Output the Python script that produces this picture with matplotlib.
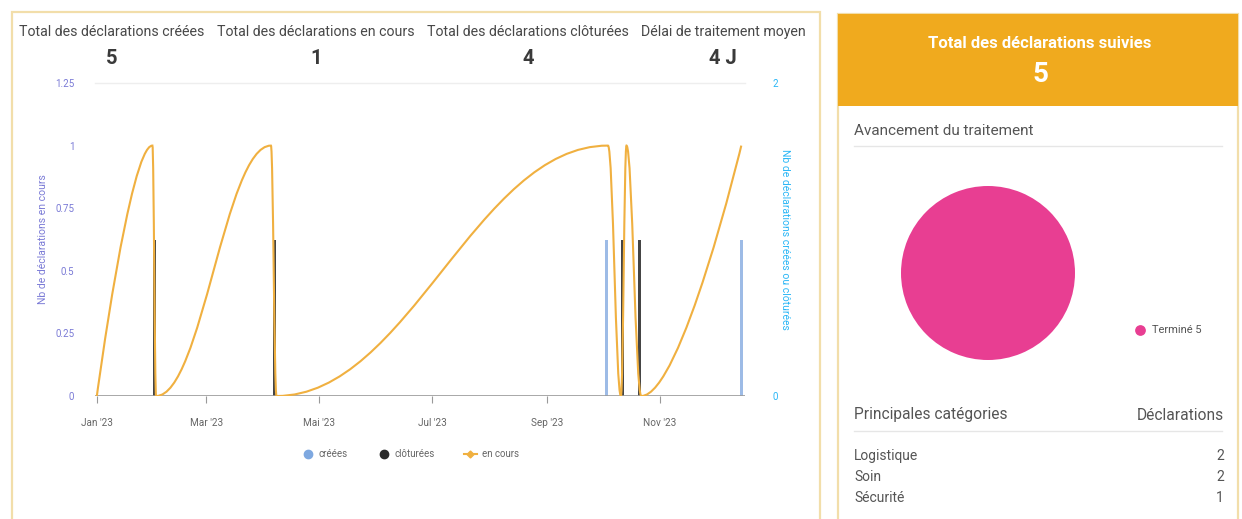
import matplotlib
matplotlib.use("Agg")
import matplotlib.pyplot as plt
import matplotlib.dates as mdates
from matplotlib.path import Path
from matplotlib.patches import PathPatch, Rectangle
from matplotlib.lines import Line2D
from datetime import date

plt.rcParams['font.family'] = ['Roboto', 'DejaVu Sans']

# KPI header of the left card
kpi_titles = ["Total des déclarations créées", "Total des déclarations en cours",
              "Total des déclarations clôturées", "Délai de traitement moyen"]
kpi_values = ["5", "1", "4", "4 J"]

# timeline series
en_cours_dates = [date(2023, 1, 1), date(2023, 1, 31), date(2023, 2, 2), date(2023, 4, 5),
                  date(2023, 4, 8), date(2023, 10, 4), date(2023, 10, 11), date(2023, 10, 14),
                  date(2023, 10, 22), date(2023, 12, 15)]
en_cours_values = [0, 1, 0, 1, 0, 1, 0, 1, 0, 1]

creees_dates = [date(2023, 2, 1), date(2023, 4, 7), date(2023, 10, 3), date(2023, 10, 12),
                date(2023, 12, 15)]
creees_values = [1, 1, 1, 1, 1]

cloturees_dates = [date(2023, 2, 1), date(2023, 4, 7), date(2023, 10, 12), date(2023, 10, 21)]
cloturees_values = [1, 1, 1, 1]

month_ticks = [date(2023, 1, 1), date(2023, 3, 1), date(2023, 5, 1),
               date(2023, 7, 1), date(2023, 9, 1), date(2023, 11, 1)]
month_labels = ["Jan '23", "Mar '23", "Mai '23", "Jul '23", "Sep '23", "Nov '23"]

left_ticks = [0, 0.25, 0.5, 0.75, 1, 1.25]
left_tick_labels = ["0", "0.25", "0.5", "0.75", "1", "1.25"]

# right card
suivies_total = 5
pie_labels = ["Terminé"]
pie_values = [5]
cat_names = ["Logistique", "Soin", "Sécurité"]
cat_counts = [2, 2, 1]

W, H = 1242, 519
ORANGE = "#f0aa1e"
CURVE = "#f0b040"
BLUE = "#9dbbe6"
DARK = "#454545"
PINK = "#e83e92"
GREY = "#555555"


def px_box(x0, y0, x1, y1):
    return [x0 / W, 1 - y1 / H, (x1 - x0) / W, (y1 - y0) / H]


def spline_path(xs, ys, smoothing=1.5):
    # cubic bezier path, control handles put like a highcharts spline
    n = len(xs)
    left = [None] * n
    right = [None] * n
    denom = smoothing + 1
    for i in range(1, n - 1):
        x, y = xs[i], ys[i]
        lx, ly = xs[i - 1], ys[i - 1]
        nx, ny = xs[i + 1], ys[i + 1]
        lcx, lcy = (smoothing * x + lx) / denom, (smoothing * y + ly) / denom
        rcx, rcy = (smoothing * x + nx) / denom, (smoothing * y + ny) / denom
        corr = (rcy - lcy) * (rcx - x) / (rcx - lcx) + y - rcy
        lcy += corr
        rcy += corr
        if lcy > ly and lcy > y:
            lcy = max(ly, y)
            rcy = 2 * y - lcy
        elif lcy < ly and lcy < y:
            lcy = min(ly, y)
            rcy = 2 * y - lcy
        if rcy > ny and rcy > y:
            rcy = max(ny, y)
            lcy = 2 * y - rcy
        elif rcy < ny and rcy < y:
            rcy = min(ny, y)
            lcy = 2 * y - rcy
        left[i] = (lcx, lcy)
        right[i] = (rcx, rcy)
    verts = [(xs[0], ys[0])]
    codes = [Path.MOVETO]
    for i in range(1, n):
        c1 = right[i - 1] or (xs[i - 1], ys[i - 1])
        c2 = left[i] or (xs[i], ys[i])
        verts += [c1, c2, (xs[i], ys[i])]
        codes += [Path.CURVE4] * 3
    return Path(verts, codes)


fig = plt.figure(figsize=(W / 100, H / 100), dpi=100)
fig.patch.set_facecolor("white")

bg = fig.add_axes([0, 0, 1, 1])
bg.set_xlim(0, W)
bg.set_ylim(H, 0)
bg.axis("off")

# cards
bg.add_patch(Rectangle((12, 12), 808, 520, facecolor="white", edgecolor="#f2deaa", lw=1.6))
bg.add_patch(Rectangle((838, 14), 400, 520, facecolor="white", edgecolor="#f2deaa", lw=1.6))
bg.add_patch(Rectangle((838, 14), 400, 92, facecolor=ORANGE, edgecolor="none"))

# KPI row
kpi_x = [112, 316, 528, 723]
for x, t, v in zip(kpi_x, kpi_titles, kpi_values):
    bg.text(x, 32, t, ha="center", va="center", fontsize=10.2, color="#484848")
    bg.text(x, 58, v, ha="center", va="center", fontsize=14.5, fontweight="bold", color="#3a3a3a")

# right card text
bg.text(1040, 43, "Total des déclarations suivies", ha="center", va="center",
        fontsize=12, fontweight="bold", color="white")
bg.text(1040, 75, str(suivies_total), ha="center", va="center",
        fontsize=20, fontweight="bold", color="white")
bg.text(854, 131, "Avancement du traitement", ha="left", va="center", fontsize=11, color=GREY)
bg.plot([854, 1222], [146, 146], color="#e6e6e6", lw=1)

bg.text(854, 415, "Principales catégories", ha="left", va="center", fontsize=11.2, color=GREY)
bg.text(1224, 415, "Déclarations", ha="right", va="center", fontsize=11.2, color=GREY)
bg.plot([854, 1222], [431, 431], color="#e6e6e6", lw=1)
for i, (name, n) in enumerate(zip(cat_names, cat_counts)):
    y = 456 + i * 21
    bg.text(854, y, name, ha="left", va="center", fontsize=10, color=GREY)
    bg.text(1224, y, str(n), ha="right", va="center", fontsize=10, color=GREY)

# pie
ax_pie = fig.add_axes(px_box(900, 186, 1076, 360))
ax_pie.pie(pie_values, colors=[PINK], radius=1, startangle=90,
           wedgeprops=dict(edgecolor="none"))
ax_pie.set_xlim(-1, 1)
ax_pie.set_ylim(-1, 1)
ax_pie.set_aspect("equal")
for lab, val in zip(pie_labels, pie_values):
    bg.scatter([1140], [330], s=45, color=PINK)
    bg.text(1152, 330, f"{lab} {val}", ha="left", va="center", fontsize=8, color=GREY)

# timeline chart
ax = fig.add_axes(px_box(95, 83, 745, 396))
ax2 = ax.twinx()
ax.set_zorder(ax2.get_zorder() + 1)
ax.patch.set_visible(False)

bw = 1.6
ax2.bar(mdates.date2num(creees_dates), creees_values, width=bw, color=BLUE, zorder=2)
ax2.bar(mdates.date2num(cloturees_dates), cloturees_values, width=bw, color=DARK, zorder=3)
ax2.set_ylim(0, 2)
ax2.set_yticks([0, 2])
ax2.set_yticklabels(["0", "2"])
ax2.tick_params(axis="y", length=0, pad=20, labelsize=7, labelcolor="#29b6f6")
ax2.set_ylabel("Nb de déclarations créées ou clôturées", color="#29b6f6", fontsize=7.5,
               rotation=-90, labelpad=8)

xs = list(mdates.date2num(en_cours_dates))
ax.add_patch(PathPatch(spline_path(xs, en_cours_values), facecolor="none",
                       edgecolor=CURVE, lw=1.5, zorder=4))

ax.set_ylim(0, 1.25)
ax.set_yticks(left_ticks)
ax.set_yticklabels(left_tick_labels)
ax.tick_params(axis="y", length=0, pad=15, labelsize=7, labelcolor="#7a7ad6")
ax.set_ylabel("Nb de déclarations en cours", color="#7a7ad6", fontsize=7.5, labelpad=5)

ax.set_xlim(mdates.date2num(date(2022, 12, 31)), mdates.date2num(date(2023, 12, 17)))
ax.set_xticks(mdates.date2num(month_ticks))
ax.set_xticklabels(month_labels)
ax.tick_params(axis="x", length=5, width=0.8, color="#999999", pad=11, labelsize=7.2,
               labelcolor="#666666")

for a in (ax, ax2):
    for s in ("top", "left", "right", "bottom"):
        a.spines[s].set_visible(False)
ax.axhline(0, color="#9a9a9a", lw=1.2, zorder=1)
ax.axhline(1.25, color="#eeeeee", lw=1, zorder=0, clip_on=False)

handles = [Line2D([], [], ls="none", marker="o", ms=6, color="#7ea8e0", label="créées"),
           Line2D([], [], ls="none", marker="o", ms=6, color="#2a2a2a", label="clôturées"),
           Line2D([], [], color=CURVE, lw=1.5, marker="D", ms=3.5, label="en cours")]
fig.legend(handles=handles, loc="center", bbox_to_anchor=(410 / W, 1 - 454 / H), ncol=3,
           frameon=False, fontsize=7, handlelength=1.3, columnspacing=3.0,
           handletextpad=0.5, labelcolor="#666666")

fig.savefig("out.png", dpi=100)
